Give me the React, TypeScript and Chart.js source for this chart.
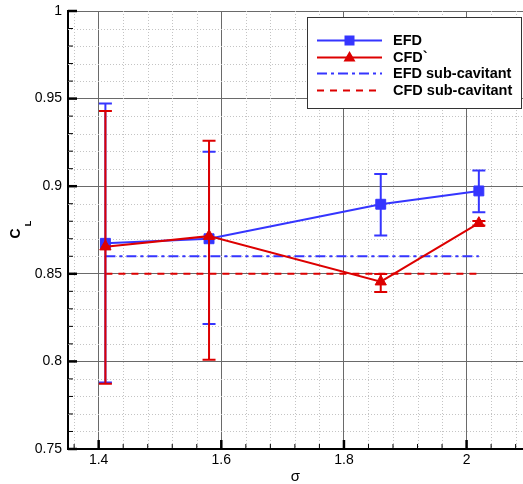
import React, { useEffect, useRef } from "react";
import { Chart, registerables } from "chart.js";

Chart.register(...registerables);

// ---- data ----
const sigma = [1.411, 1.58, 1.86, 2.02];
const efd = [0.8674, 0.8700, 0.8897, 0.8973];
const efdLow = [0.788, 0.8214, 0.8718, 0.8851];
const efdHigh = [0.9472, 0.9196, 0.907, 0.9089];
const cfd = [0.8655, 0.8715, 0.8455, 0.8789];
const cfdLow = [0.7872, 0.8009, 0.8396, 0.8776];
const cfdHigh = [0.9429, 0.9259, 0.8499, 0.8802];
const subX = [1.411, 2.02];
const efdSub = [0.86, 0.86];
const cfdSub = [0.85, 0.85];
const xTicks = [1.4, 1.6, 1.8, 2];
const yTicks = [0.75, 0.8, 0.85, 0.9, 0.95, 1];
const seriesNames = ["EFD", "CFD`", "EFD sub-cavitant", "CFD sub-cavitant"];

const BLUE = "#3535ff";
const RED = "#dd0000";
const FONT = "'Liberation Sans', Arial, sans-serif";
const DASH_DOT = [10, 4, 3, 4];
const DASHED = [7, 6];

const pts = (xs: number[], ys: number[]) => xs.map((x, i) => ({ x, y: ys[i] }));

const decor = {
  id: "decor",
  beforeDatasetsDraw(chart: any) {
    const { ctx, chartArea: a, scales } = chart;
    const xs = scales.x, ys = scales.y;
    ctx.save();
    ctx.beginPath();
    ctx.rect(a.left, a.top, a.right - a.left, a.bottom - a.top);
    ctx.clip();
    ctx.strokeStyle = "#c4c4c4";
    ctx.lineWidth = 1;
    ctx.setLineDash([1, 2]);
    for (let i = 0; i < 40; i++) {
      const v = 1.36 + i * 0.04;
      if (Math.abs(((v - 1.4) / 0.2) - Math.round((v - 1.4) / 0.2)) < 1e-6) continue;
      const px = Math.round(xs.getPixelForValue(v)) + 0.5;
      if (px > a.right) break;
      ctx.beginPath();
      ctx.moveTo(px, a.top);
      ctx.lineTo(px, a.bottom);
      ctx.stroke();
    }
    for (let i = 0; i <= 25; i++) {
      if (i % 5 === 0) continue;
      const v = 0.75 + i * 0.01;
      const py = Math.round(ys.getPixelForValue(v)) + 0.5;
      ctx.beginPath();
      ctx.moveTo(a.left, py);
      ctx.lineTo(a.right, py);
      ctx.stroke();
    }
    ctx.restore();
  },
  beforeDatasetDraw(chart: any, args: any) {
    const ds = chart.data.datasets[args.index];
    if (!ds.errLow) return;
    const { ctx, scales } = chart;
    ctx.save();
    ctx.strokeStyle = ds.borderColor;
    ctx.lineWidth = 2;
    ctx.setLineDash([]);
    ds.data.forEach((p: any, i: number) => {
      const px = scales.x.getPixelForValue(p.x);
      const y1 = scales.y.getPixelForValue(ds.errLow[i]);
      const y2 = scales.y.getPixelForValue(ds.errHigh[i]);
      ctx.beginPath();
      ctx.moveTo(px, y1);
      ctx.lineTo(px, y2);
      ctx.moveTo(px - 6.5, y1);
      ctx.lineTo(px + 6.5, y1);
      ctx.moveTo(px - 6.5, y2);
      ctx.lineTo(px + 6.5, y2);
      ctx.stroke();
    });
    ctx.restore();
  },
  afterDatasetsDraw(chart: any) {
    const { ctx, chartArea: a, scales } = chart;
    const xs = scales.x, ys = scales.y;
    ctx.save();
    ctx.setLineDash([]);
    ctx.strokeStyle = "#000";
    // inward ticks, left axis
    for (let i = 0; i <= 25; i++) {
      const v = 0.75 + i * 0.01;
      const major = i % 5 === 0;
      const py = ys.getPixelForValue(v);
      ctx.lineWidth = major ? 2.5 : 1;
      ctx.beginPath();
      ctx.moveTo(a.left, py);
      ctx.lineTo(a.left + (major ? 9 : 5), py);
      ctx.stroke();
    }
    // inward ticks, bottom axis
    for (let i = 0; i < 40; i++) {
      const v = 1.36 + i * 0.04;
      const px = xs.getPixelForValue(v);
      if (px > a.right) break;
      const major = Math.abs(((v - 1.4) / 0.2) - Math.round((v - 1.4) / 0.2)) < 1e-6;
      ctx.lineWidth = major ? 2.5 : 1;
      ctx.beginPath();
      ctx.moveTo(px, a.bottom);
      ctx.lineTo(px, a.bottom - (major ? 9 : 5));
      ctx.stroke();
    }

    // legend
    const lx = 307, ly = 17, lw = 214, lh = 91;
    ctx.fillStyle = "#fff";
    ctx.fillRect(lx, ly, lw, lh);
    ctx.strokeStyle = "#333";
    ctx.lineWidth = 1;
    ctx.strokeRect(lx + 0.5, ly + 0.5, lw, lh);
    const rows = [40.5, 57.5, 73.5, 90.5];
    const colors = [BLUE, RED, BLUE, RED];
    const dashes = [[], [], DASH_DOT, DASHED];
    rows.forEach((ry, i) => {
      ctx.strokeStyle = colors[i];
      ctx.lineWidth = 2;
      ctx.setLineDash(dashes[i]);
      ctx.beginPath();
      ctx.moveTo(317, ry);
      ctx.lineTo(382, ry);
      ctx.stroke();
      ctx.setLineDash([]);
      ctx.fillStyle = colors[i];
      if (i === 0) {
        ctx.fillRect(349.5 - 5, ry - 5, 10, 10);
      } else if (i === 1) {
        ctx.beginPath();
        ctx.moveTo(349.5, ry - 6.5);
        ctx.lineTo(349.5 + 6, ry + 4);
        ctx.lineTo(349.5 - 6, ry + 4);
        ctx.closePath();
        ctx.fill();
      }
      ctx.fillStyle = "#000";
      ctx.font = `bold 14.5px ${FONT}`;
      ctx.textAlign = "left";
      ctx.textBaseline = "middle";
      ctx.fillText(seriesNames[i], 393, ry + 0.5);
    });

    // axis titles
    ctx.fillStyle = "#000";
    ctx.font = `15px ${FONT}`;
    ctx.textAlign = "center";
    ctx.textBaseline = "middle";
    ctx.fillText("σ", (a.left + a.right) / 2, 477);

    ctx.save();
    ctx.translate(16.5, 233.5);
    ctx.rotate(-Math.PI / 2);
    ctx.font = `bold 14px ${FONT}`;
    ctx.textAlign = "center";
    ctx.textBaseline = "middle";
    ctx.fillText("C", 0, 0);
    ctx.font = `bold 9px ${FONT}`;
    ctx.fillText("L", 10, 12);
    ctx.restore();
    ctx.restore();
  },
};

export default function App() {
  const ref = useRef<HTMLCanvasElement | null>(null);
  useEffect(() => {
    if (!ref.current) return;
    const chart = new Chart(ref.current, {
      type: "line",
      data: {
        datasets: [
          {
            label: seriesNames[1],
            data: pts(sigma, cfd),
            borderColor: RED,
            backgroundColor: RED,
            borderWidth: 2,
            pointStyle: "triangle",
            pointRadius: 6.5,
            pointBorderWidth: 1,
            order: 1,
            errLow: cfdLow,
            errHigh: cfdHigh,
          } as any,
          {
            label: seriesNames[0],
            data: pts(sigma, efd),
            borderColor: BLUE,
            backgroundColor: BLUE,
            borderWidth: 2,
            pointStyle: "rect",
            pointRadius: 7,
            pointBorderWidth: 1,
            order: 2,
            errLow: efdLow,
            errHigh: efdHigh,
          } as any,
          {
            label: seriesNames[2],
            data: pts(subX, efdSub),
            borderColor: BLUE,
            borderWidth: 2,
            borderDash: DASH_DOT,
            pointRadius: 0,
            order: 3,
          },
          {
            label: seriesNames[3],
            data: pts(subX, cfdSub),
            borderColor: RED,
            borderWidth: 2,
            borderDash: DASHED,
            pointRadius: 0,
            order: 4,
          },
        ],
      },
      options: {
        animation: false,
        responsive: false,
        devicePixelRatio: 1,
        layout: { autoPadding: false, padding: { top: 11, right: 0, left: 0, bottom: 0 } },
        plugins: { legend: { display: false }, tooltip: { enabled: false } },
        scales: {
          x: {
            type: "linear",
            min: 1.35,
            max: 2.092,
            afterBuildTicks: (s: any) => {
              s.ticks = xTicks.map((v) => ({ value: v }));
            },
            afterFit: (s: any) => {
              s.height = 35;
              s.paddingLeft = 0;
              s.paddingRight = 0;
            },
            ticks: {
              color: "#000",
              font: { family: FONT, size: 14 },
              padding: 3,
              maxRotation: 0,
              callback: (v: any) => String(v),
            },
            grid: { color: "#6a6a6a", lineWidth: 1, drawTicks: false },
            border: { color: "#000", width: 2 },
          },
          y: {
            type: "linear",
            min: 0.75,
            max: 1,
            afterBuildTicks: (s: any) => {
              s.ticks = yTicks.map((v) => ({ value: v }));
            },
            afterFit: (s: any) => {
              s.width = 68;
              s.paddingTop = 0;
              s.paddingBottom = 0;
            },
            ticks: {
              color: "#000",
              font: { family: FONT, size: 14 },
              padding: 6,
              callback: (v: any) => String(v),
            },
            grid: { color: "#6a6a6a", lineWidth: 1, drawTicks: false },
            border: { color: "#000", width: 2 },
          },
        },
      },
      plugins: [decor],
    });
    return () => chart.destroy();
  }, []);
  return (
    <div style={{ position: "absolute", left: 0, top: 0, width: 523, height: 484, background: "#fff" }}>
      <canvas ref={ref} width={523} height={484} style={{ display: "block" }} />
    </div>
  );
}
